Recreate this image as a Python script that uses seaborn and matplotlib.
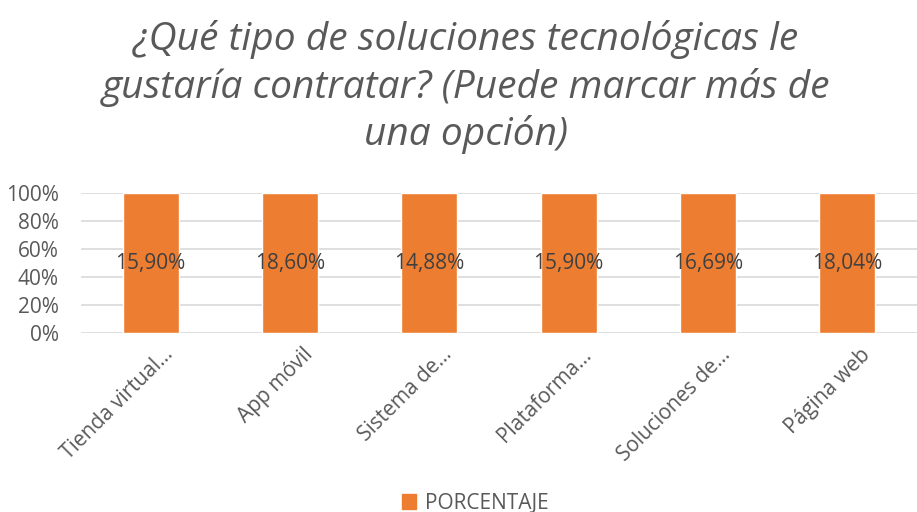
import matplotlib
matplotlib.use("Agg")
import matplotlib.pyplot as plt
from matplotlib.transforms import ScaledTranslation
import numpy as np
import pandas as pd
import seaborn as sns

# Datos (100% apilado, una sola serie)
categorias = ["Tienda virtual…", "App móvil", "Sistema de…",
              "Plataforma…", "Soluciones de…", "Página web"]
porcentajes = [15.90, 18.60, 14.88, 15.90, 16.69, 18.04]
etiquetas = ["15,90%", "18,60%", "14,88%", "15,90%", "16,69%", "18,04%"]
serie = "PORCENTAJE"

titulo = ("¿Qué tipo de soluciones tecnológicas le\n"
          "gustaría contratar? (Puede marcar más de\n"
          "una opción)")

naranja = "#ED7D31"
gris_texto = "#595959"

# En un gráfico 100% apilado con una serie, cada barra ocupa el total
valores = np.array(porcentajes)
df = pd.DataFrame({
    "categoria": categorias,
    "apilado": valores / valores * 100,
    "serie": serie,
})

sns.set_theme(style="white")
plt.rcParams["font.family"] = ["Open Sans", "DejaVu Sans"]

fig = plt.figure(figsize=(9.17, 5.12), dpi=100)
ax = fig.add_axes([81 / 917, 1 - 333 / 512, 836 / 917, 140 / 512])

sns.barplot(data=df, x="categoria", y="apilado", hue="serie",
            palette=[naranja], width=0.4, ax=ax, legend=False,
            saturation=1)

for i, txt in enumerate(etiquetas):
    ax.text(i, 50, txt, ha="center", va="center", fontsize=15,
            color="#404040")

ax.set_ylim(0, 100)
ax.set_xlim(-0.5, len(categorias) - 0.5)
ax.set_yticks(np.arange(0, 101, 20))
ax.set_yticklabels([f"{t}%" for t in range(0, 101, 20)])
ax.yaxis.grid(True, color="#D9D9D9", linewidth=1.2)
ax.set_axisbelow(True)
for s in ax.spines.values():
    s.set_visible(False)
ax.set_xlabel("")
ax.set_ylabel("")
ax.tick_params(axis="y", labelsize=15, labelcolor=gris_texto, length=0, pad=16)
ax.tick_params(axis="x", labelsize=15, labelcolor=gris_texto, length=0, pad=8)
desplazamiento = ScaledTranslation(12 / 100, 0, fig.dpi_scale_trans)
for lbl in ax.get_xticklabels():
    lbl.set_rotation(45)
    lbl.set_ha("right")
    lbl.set_rotation_mode("anchor")
    lbl.set_transform(lbl.get_transform() + desplazamiento)

fig.text(0.508, 0.96, titulo, ha="center", va="top", fontsize=28,
         style="italic", color=gris_texto, linespacing=1.27)

handle = plt.Rectangle((0, 0), 1, 1, color=naranja)
fig.legend([handle], [serie], loc="lower center",
           bbox_to_anchor=(0.518, -0.04), frameon=False, fontsize=15,
           handlelength=0.7, handleheight=0.7, handletextpad=0.4,
           labelcolor=gris_texto)

fig.savefig("out.png", dpi=100)
